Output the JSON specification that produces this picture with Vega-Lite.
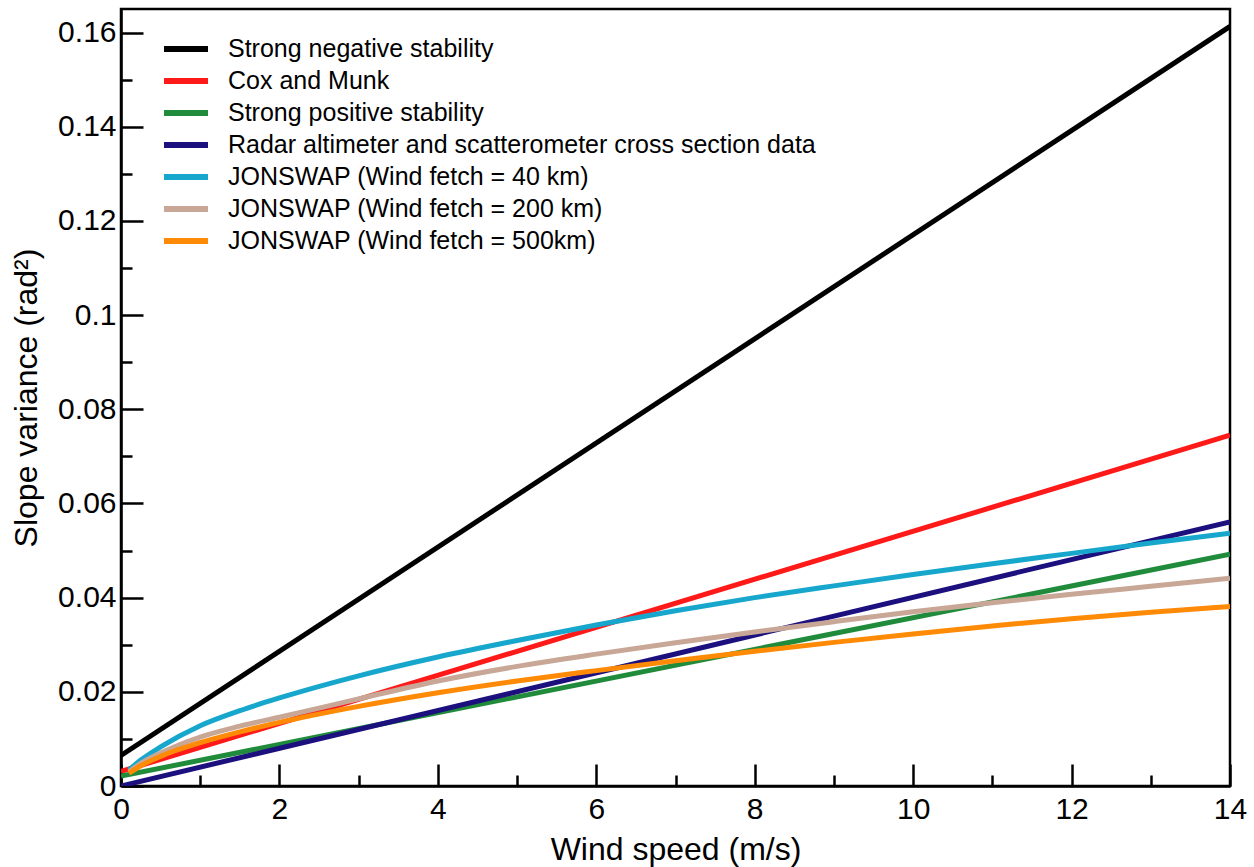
{
  "$schema": "https://vega.github.io/schema/vega-lite/v6.json",
  "autosize": "none",
  "width": 1109,
  "height": 777,
  "padding": {"left": 121, "top": 9, "right": 24, "bottom": 81},
  "background": "white",
  "config": {
    "font": "Liberation Sans",
    "view": {"stroke": "black", "strokeWidth": 2.5},
    "axis": {"grid": false, "domainColor": "black", "domainWidth": 2.5, "tickColor": "black", "tickWidth": 2.5, "labelColor": "black", "titleColor": "black", "labelFont": "Liberation Sans", "titleFont": "Liberation Sans", "titleFontWeight": "normal", "labelFlush": false}
  },
  "data": {"values": [
    {"s": "Strong negative stability", "u": 0, "v": 0.0065},
    {"s": "Strong negative stability", "u": 14, "v": 0.1613},
    {"s": "Cox and Munk", "u": 0, "v": 0.0031},
    {"s": "Cox and Munk", "u": 14, "v": 0.0745},
    {"s": "Strong positive stability", "u": 0, "v": 0.0021},
    {"s": "Strong positive stability", "u": 14, "v": 0.0492},
    {"s": "Radar altimeter and scatterometer cross section data", "u": 0, "v": 0.0},
    {"s": "Radar altimeter and scatterometer cross section data", "u": 14, "v": 0.0561},
    {"s": "JONSWAP (Wind fetch = 40 km)", "u": 0.1, "v": 0.0034},
    {"s": "JONSWAP (Wind fetch = 40 km)", "u": 0.25, "v": 0.0055},
    {"s": "JONSWAP (Wind fetch = 40 km)", "u": 0.5, "v": 0.0083},
    {"s": "JONSWAP (Wind fetch = 40 km)", "u": 1, "v": 0.0128},
    {"s": "JONSWAP (Wind fetch = 40 km)", "u": 1.5, "v": 0.016},
    {"s": "JONSWAP (Wind fetch = 40 km)", "u": 2, "v": 0.0187},
    {"s": "JONSWAP (Wind fetch = 40 km)", "u": 3, "v": 0.0234},
    {"s": "JONSWAP (Wind fetch = 40 km)", "u": 4, "v": 0.0274},
    {"s": "JONSWAP (Wind fetch = 40 km)", "u": 5, "v": 0.0309},
    {"s": "JONSWAP (Wind fetch = 40 km)", "u": 6, "v": 0.0342},
    {"s": "JONSWAP (Wind fetch = 40 km)", "u": 7, "v": 0.0372},
    {"s": "JONSWAP (Wind fetch = 40 km)", "u": 8, "v": 0.04},
    {"s": "JONSWAP (Wind fetch = 40 km)", "u": 9, "v": 0.0425},
    {"s": "JONSWAP (Wind fetch = 40 km)", "u": 10, "v": 0.0449},
    {"s": "JONSWAP (Wind fetch = 40 km)", "u": 11, "v": 0.0472},
    {"s": "JONSWAP (Wind fetch = 40 km)", "u": 12, "v": 0.0494},
    {"s": "JONSWAP (Wind fetch = 40 km)", "u": 13, "v": 0.0516},
    {"s": "JONSWAP (Wind fetch = 40 km)", "u": 14, "v": 0.0537},
    {"s": "JONSWAP (Wind fetch = 200 km)", "u": 0.1, "v": 0.003},
    {"s": "JONSWAP (Wind fetch = 200 km)", "u": 0.25, "v": 0.0048},
    {"s": "JONSWAP (Wind fetch = 200 km)", "u": 0.5, "v": 0.007},
    {"s": "JONSWAP (Wind fetch = 200 km)", "u": 1, "v": 0.0104},
    {"s": "JONSWAP (Wind fetch = 200 km)", "u": 1.5, "v": 0.0127},
    {"s": "JONSWAP (Wind fetch = 200 km)", "u": 2, "v": 0.0146},
    {"s": "JONSWAP (Wind fetch = 200 km)", "u": 3, "v": 0.0185},
    {"s": "JONSWAP (Wind fetch = 200 km)", "u": 4, "v": 0.0223},
    {"s": "JONSWAP (Wind fetch = 200 km)", "u": 5, "v": 0.0254},
    {"s": "JONSWAP (Wind fetch = 200 km)", "u": 6, "v": 0.028},
    {"s": "JONSWAP (Wind fetch = 200 km)", "u": 7, "v": 0.0304},
    {"s": "JONSWAP (Wind fetch = 200 km)", "u": 8, "v": 0.0327},
    {"s": "JONSWAP (Wind fetch = 200 km)", "u": 9, "v": 0.0349},
    {"s": "JONSWAP (Wind fetch = 200 km)", "u": 10, "v": 0.037},
    {"s": "JONSWAP (Wind fetch = 200 km)", "u": 11, "v": 0.0389},
    {"s": "JONSWAP (Wind fetch = 200 km)", "u": 12, "v": 0.0407},
    {"s": "JONSWAP (Wind fetch = 200 km)", "u": 13, "v": 0.0424},
    {"s": "JONSWAP (Wind fetch = 200 km)", "u": 14, "v": 0.0441},
    {"s": "JONSWAP (Wind fetch = 500km)", "u": 0.1, "v": 0.0027},
    {"s": "JONSWAP (Wind fetch = 500km)", "u": 0.25, "v": 0.0043},
    {"s": "JONSWAP (Wind fetch = 500km)", "u": 0.5, "v": 0.0063},
    {"s": "JONSWAP (Wind fetch = 500km)", "u": 1, "v": 0.0092},
    {"s": "JONSWAP (Wind fetch = 500km)", "u": 1.5, "v": 0.0115},
    {"s": "JONSWAP (Wind fetch = 500km)", "u": 2, "v": 0.0135},
    {"s": "JONSWAP (Wind fetch = 500km)", "u": 3, "v": 0.0169},
    {"s": "JONSWAP (Wind fetch = 500km)", "u": 4, "v": 0.0198},
    {"s": "JONSWAP (Wind fetch = 500km)", "u": 5, "v": 0.0223},
    {"s": "JONSWAP (Wind fetch = 500km)", "u": 6, "v": 0.0245},
    {"s": "JONSWAP (Wind fetch = 500km)", "u": 7, "v": 0.0266},
    {"s": "JONSWAP (Wind fetch = 500km)", "u": 8, "v": 0.0286},
    {"s": "JONSWAP (Wind fetch = 500km)", "u": 9, "v": 0.0305},
    {"s": "JONSWAP (Wind fetch = 500km)", "u": 10, "v": 0.0323},
    {"s": "JONSWAP (Wind fetch = 500km)", "u": 11, "v": 0.034},
    {"s": "JONSWAP (Wind fetch = 500km)", "u": 12, "v": 0.0355},
    {"s": "JONSWAP (Wind fetch = 500km)", "u": 13, "v": 0.0369},
    {"s": "JONSWAP (Wind fetch = 500km)", "u": 14, "v": 0.0381}
  ]},
  "layer": [
    {
      "mark": {"type": "line", "strokeWidth": 5, "interpolate": "monotone", "clip": true},
      "encoding": {
        "x": {"field": "u", "type": "quantitative", "scale": {"domain": [0, 14], "nice": false},
          "axis": {"orient": "bottom", "values": [0, 2, 4, 6, 8, 10, 12, 14], "tickSize": -22, "labelFontSize": 30, "labelPadding": 30, "title": "Wind speed (m/s)", "titleFontSize": 32, "titlePadding": 10}},
        "y": {"field": "v", "type": "quantitative", "scale": {"domain": [0, 0.165], "nice": false},
          "axis": {"orient": "left", "values": [0, 0.02, 0.04, 0.06, 0.08, 0.1, 0.12, 0.14, 0.16], "format": ".2~f", "tickSize": -22, "labelFontSize": 30, "labelPadding": 27, "title": "Slope variance (rad²)", "titleFontSize": 32, "titlePadding": 14}},
        "color": {"field": "s", "type": "nominal",
          "scale": {"domain": ["Strong negative stability", "Cox and Munk", "Strong positive stability", "Radar altimeter and scatterometer cross section data", "JONSWAP (Wind fetch = 40 km)", "JONSWAP (Wind fetch = 200 km)", "JONSWAP (Wind fetch = 500km)"],
            "range": ["#000000", "#ff1a1a", "#1f8b3b", "#1c0f7e", "#17a7cc", "#c8a797", "#ff8a05"]},
          "legend": {"title": null, "orient": "none", "legendX": 51, "legendY": 26, "padding": 0, "symbolType": "M-2,0H2", "symbolSize": 484, "symbolStrokeWidth": 6, "symbolFillColor": "transparent", "labelFontSize": 25, "labelFont": "Liberation Sans", "labelColor": "black", "labelOffset": 28, "rowPadding": 5, "labelLimit": 800}},
        "order": {"field": "u", "type": "quantitative"}
      }
    },
    {
      "mark": {"type": "point", "opacity": 0},
      "encoding": {
        "x": {"field": "u", "type": "quantitative", "axis": {"orient": "bottom", "values": [1, 3, 5, 7, 9, 11, 13], "tickSize": -11, "labels": false, "domain": false, "title": null}},
        "y": {"field": "v", "type": "quantitative", "axis": {"orient": "left", "values": [0.01, 0.03, 0.05, 0.07, 0.09, 0.11, 0.13, 0.15], "tickSize": -11, "labels": false, "domain": false, "title": null}}
      }
    }
  ],
  "resolve": {"axis": {"x": "independent", "y": "independent"}}
}
